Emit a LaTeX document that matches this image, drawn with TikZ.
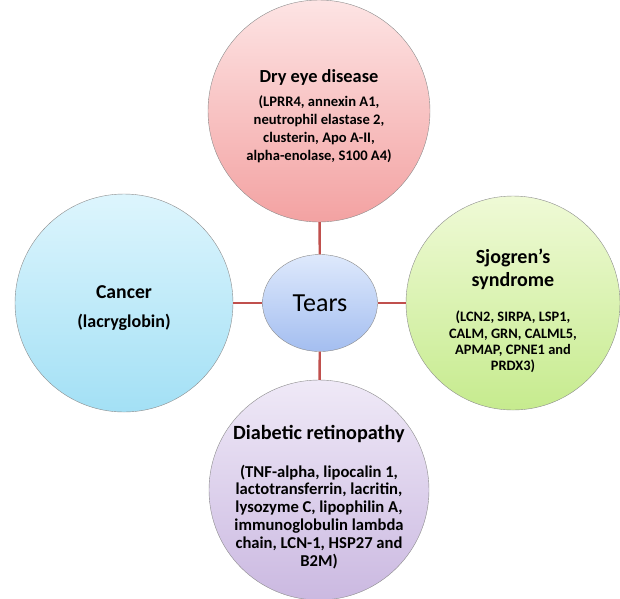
\documentclass[tikz,border=0pt]{standalone}
\usepackage{fontspec}
\setmainfont{Carlito}
\usetikzlibrary{shapes.geometric}
\definecolor{linkred}{HTML}{C0504D}
\definecolor{outl}{HTML}{8C8C8C}
\definecolor{redtop}{HTML}{FDE4E4}
\definecolor{redbot}{HTML}{F3A2A2}
\definecolor{bluetop}{HTML}{DDF5FD}
\definecolor{bluebot}{HTML}{A3E0F5}
\definecolor{greentop}{HTML}{EFFAD6}
\definecolor{greenbot}{HTML}{C6EB8E}
\definecolor{purptop}{HTML}{EFE9F7}
\definecolor{purpbot}{HTML}{CBB9E1}
\definecolor{tearstop}{HTML}{DEE9FC}
\definecolor{tearsbot}{HTML}{A4BEF0}
\tikzset{
  disease/.style={circle, draw=outl, inner sep=0pt},
  label text/.style={anchor=north, inner sep=0pt, align=center, text=black},
  link/.style={draw=linkred, line width=2.4pt}
}
\begin{document}
\begin{tikzpicture}
\path[use as bounding box] (0pt,0pt) rectangle (620pt,-598pt);
% circles
\node[disease, minimum size=222pt, top color=redtop, bottom color=redbot] (dry) at (319pt,-111pt) {};
\node[disease, minimum size=218pt, top color=bluetop, bottom color=bluebot] (cancer) at (124pt,-303pt) {};
\node[disease, minimum size=214pt, top color=greentop, bottom color=greenbot] (sjo) at (513pt,-303pt) {};
\node[disease, minimum size=220pt, top color=purptop, bottom color=purpbot] (dr) at (319pt,-490pt) {};
\node[ellipse, draw=outl, minimum width=115pt, minimum height=97pt, inner sep=0pt,
      top color=tearstop, bottom color=tearsbot, font=\fontsize{26}{30}\selectfont] (tears) at (320pt,-303pt) {Tears};
% connectors
\draw[link] (tears) -- (dry);
\draw[link] (tears) -- (cancer);
\draw[link] (tears) -- (sjo);
\draw[link] (tears) -- (dr);
% texts
\node[label text, font=\fontsize{14.6}{17.9}\selectfont\bfseries] (drytxt) at (319pt,-66pt)
  {\rule{0pt}{16pt}{\fontsize{18.4}{20}\selectfont Dry eye disease}\\[6.5pt](LPRR4, annexin A1,\\neutrophil elastase 2,\\clusterin, Apo A-II,\\alpha-enolase, S100 A4)};
\node[label text, font=\fontsize{18}{20}\selectfont\bfseries] (cantxt) at (124pt,-281pt)
  {\rule{0pt}{17pt}{\fontsize{19.7}{22}\selectfont Cancer}\\[9pt](lacryglobin)};
\node[label text, font=\fontsize{14.4}{16.3}\selectfont\bfseries] (sjotxt) at (513pt,-246pt)
  {\rule{0pt}{17pt}{\fontsize{20}{22}\selectfont Sjogren’s}\\[5pt]{\fontsize{20}{22}\selectfont syndrome}\\[19pt](LCN2, SIRPA, LSP1,\\CALM, GRN, CALML5,\\APMAP, CPNE1 and\\PRDX3)};
\node[label text, font=\fontsize{16.6}{17.8}\selectfont\bfseries] (drtxt) at (319pt,-422pt)
  {\rule{0pt}{17pt}{\fontsize{20.2}{22}\selectfont Diabetic retinopathy}\\[20pt](TNF-alpha, lipocalin 1,\\lactotransferrin, lacritin,\\lysozyme C, lipophilin A,\\immunoglobulin lambda\\chain, LCN-1, HSP27 and\\B2M)};
\end{tikzpicture}
\end{document}
